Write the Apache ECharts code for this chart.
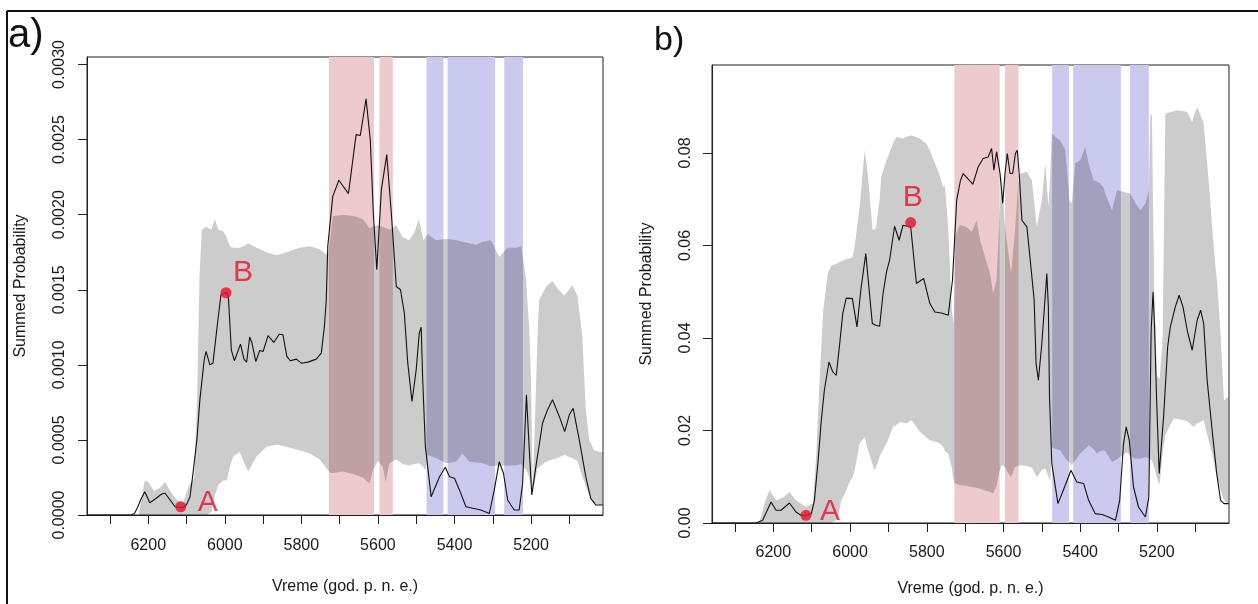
<!DOCTYPE html>
<html>
<head>
<meta charset="utf-8">
<script src="https://cdn.jsdelivr.net/npm/echarts@6/dist/echarts.min.js"></script>
<style>
html,body{margin:0;padding:0;background:#fff;}
#chart{width:1258px;height:604px;}
</style>
</head>
<body>
<div id="chart"></div>
<script>
// ---------------- DATA ----------------
const xTickValues = [6300, 6200, 6100, 6000, 5900, 5800, 5700, 5600, 5500, 5400, 5300, 5200, 5100];
const xLabelValues = [6200, 6000, 5800, 5600, 5400, 5200];
const yTicksA = [0, 0.0005, 0.001, 0.0015, 0.002, 0.0025, 0.003];
const yTicksB = [0, 0.02, 0.04, 0.06, 0.08];

const redBands = [[5728, 5610], [5596, 5561]];
const blueBands = [[5473, 5429], [5418, 5294], [5270, 5221]];

const markerNames = ['A', 'B'];
const markersA = [[6115, 0.000055], [5997, 0.00148]];
const markersB = [[6115, 0.00166], [5842, 0.06495]];

// panel a) summed probability line
const lineYearsA = [6360, 6245, 6236, 6228, 6220, 6209, 6196, 6180, 6165, 6156, 6140, 6130, 6115, 6109, 6100, 6091, 6083, 6073, 6065, 6054, 6049, 6039, 6031, 6018, 6010, 5997, 5991, 5983, 5975, 5959, 5950, 5943, 5935, 5929, 5919, 5909, 5900, 5887, 5872, 5858, 5848, 5838, 5829, 5813, 5800, 5783, 5761, 5748, 5740, 5735, 5731, 5718, 5702, 5677, 5657, 5646, 5631, 5620, 5612, 5603, 5591, 5577, 5565, 5552, 5541, 5531, 5522, 5511, 5500, 5492, 5487, 5483, 5476, 5461, 5439, 5424, 5413, 5400, 5387, 5370, 5352, 5331, 5309, 5296, 5283, 5272, 5261, 5244, 5231, 5222, 5212, 5205, 5198, 5186, 5170, 5157, 5144, 5126, 5112, 5100, 5090, 5074, 5057, 5044, 5031, 5013];
const lineA = [0, 0, 0.1e-4, 0.5e-4, 1.0e-4, 1.55e-4, 0.82e-4, 1.1e-4, 1.4e-4, 1.45e-4, 0.9e-4, 0.55e-4, 0.5e-4, 0.5e-4, 0.7e-4, 1.2e-4, 2.8e-4, 5.0e-4, 7.7e-4, 10.3e-4, 10.9e-4, 10.0e-4, 10.1e-4, 13.0e-4, 14.67e-4, 14.8e-4, 14.67e-4, 11.0e-4, 10.27e-4, 11.38e-4, 10.38e-4, 10.18e-4, 11.85e-4, 11.45e-4, 10.22e-4, 10.95e-4, 10.89e-4, 11.95e-4, 11.49e-4, 12.04e-4, 12.0e-4, 10.56e-4, 10.27e-4, 10.38e-4, 10.11e-4, 10.18e-4, 10.38e-4, 10.78e-4, 12.5e-4, 14.3e-4, 17.89e-4, 21.22e-4, 22.29e-4, 21.4e-4, 25.33e-4, 25.27e-4, 27.71e-4, 25.0e-4, 20.11e-4, 16.33e-4, 21.67e-4, 24.0e-4, 20.11e-4, 15.22e-4, 15.0e-4, 13.44e-4, 10.11e-4, 7.56e-4, 9.67e-4, 12.11e-4, 12.51e-4, 9.0e-4, 4.55e-4, 1.22e-4, 2.55e-4, 3.18e-4, 2.55e-4, 2.45e-4, 1.67e-4, 0.55e-4, 0.45e-4, 0.33e-4, 0.1e-4, 1.67e-4, 3.55e-4, 2.78e-4, 1.0e-4, 0.33e-4, 0.33e-4, 2.11e-4, 8.0e-4, 4.55e-4, 1.33e-4, 3.45e-4, 6.11e-4, 7.0e-4, 7.67e-4, 6.55e-4, 5.55e-4, 6.67e-4, 7.11e-4, 5.0e-4, 2.55e-4, 1.11e-4, 0.67e-4, 0.67e-4];

// panel a) simulation envelope
const envYearsA = [6360, 6225, 6215, 6209, 6200, 6185, 6170, 6156, 6140, 6125, 6109, 6095, 6080, 6072, 6066, 6060, 6048, 6035, 6026, 6017, 6004, 5995, 5987, 5978, 5961, 5950, 5939, 5917, 5891, 5865, 5839, 5804, 5778, 5752, 5731, 5724, 5718, 5692, 5661, 5639, 5622, 5613, 5600, 5587, 5580, 5570, 5552, 5535, 5518, 5505, 5493, 5481, 5476, 5470, 5448, 5422, 5396, 5379, 5361, 5344, 5326, 5305, 5283, 5261, 5239, 5226, 5213, 5205, 5200, 5196, 5190, 5183, 5179, 5161, 5144, 5131, 5113, 5092, 5079, 5066, 5057, 5048, 5035, 5018, 5013];
const upperA = [0, 0, 1.5e-4, 2.3e-4, 2.2e-4, 1.6e-4, 1.8e-4, 2.2e-4, 1.5e-4, 1.0e-4, 0.8e-4, 1.9e-4, 2.5e-4, 8e-4, 16e-4, 19e-4, 19.2e-4, 19.0e-4, 19.7e-4, 19.0e-4, 18.9e-4, 18.5e-4, 17.9e-4, 17.8e-4, 17.8e-4, 17.9e-4, 18.1e-4, 17.8e-4, 17.5e-4, 17.3e-4, 17.5e-4, 17.8e-4, 17.9e-4, 17.7e-4, 17.3e-4, 18.5e-4, 19.9e-4, 20.0e-4, 19.9e-4, 19.7e-4, 19.1e-4, 19.2e-4, 19.3e-4, 19.2e-4, 19.1e-4, 19.0e-4, 19.3e-4, 18.5e-4, 18.3e-4, 18.8e-4, 19.7e-4, 18.3e-4, 18.5e-4, 18.7e-4, 18.3e-4, 18.4e-4, 18.3e-4, 18.2e-4, 18.1e-4, 18.0e-4, 18.2e-4, 18.3e-4, 17.2e-4, 17.8e-4, 17.8e-4, 17.9e-4, 15.7e-4, 12.5e-4, 9.0e-4, 1.6e-4, 6.0e-4, 12.0e-4, 14.3e-4, 15.2e-4, 15.6e-4, 15.1e-4, 14.6e-4, 15.3e-4, 14.6e-4, 11.9e-4, 7.0e-4, 5.0e-4, 4.3e-4, 4.2e-4, 4.2e-4];
const lowerA = [0, 0, 0, 0, 0, 0, 0, 0, 0, 0, 0, 0, 0, 0, 0, 0, 0, 0.2e-4, 1.3e-4, 2.0e-4, 2.3e-4, 2.3e-4, 3.2e-4, 3.9e-4, 4.2e-4, 3.5e-4, 2.9e-4, 3.9e-4, 4.55e-4, 4.7e-4, 4.55e-4, 4.3e-4, 4.1e-4, 3.7e-4, 3.0e-4, 2.8e-4, 2.8e-4, 2.9e-4, 2.7e-4, 2.5e-4, 2.1e-4, 3.0e-4, 3.6e-4, 3.2e-4, 2.2e-4, 3.45e-4, 3.7e-4, 3.4e-4, 3.3e-4, 3.4e-4, 3.45e-4, 3.2e-4, 3.0e-4, 4.0e-4, 3.8e-4, 3.45e-4, 3.55e-4, 4.1e-4, 3.55e-4, 3.5e-4, 3.45e-4, 3.25e-4, 3.3e-4, 3.3e-4, 3.3e-4, 3.4e-4, 3.0e-4, 2.55e-4, 2.0e-4, 1.45e-4, 2.2e-4, 3.1e-4, 3.2e-4, 3.55e-4, 3.7e-4, 3.8e-4, 4.0e-4, 3.8e-4, 3.6e-4, 2.6e-4, 1.9e-4, 1.3e-4, 0.8e-4, 0.67e-4, 0.67e-4];

// panel b) summed probability line
const lineYearsB = [6360, 6245, 6228, 6206, 6193, 6180, 6158, 6141, 6128, 6115, 6101, 6093, 6084, 6075, 6067, 6055, 6045, 6036, 6027, 6019, 6010, 5994, 5982, 5971, 5959, 5951, 5942, 5933, 5923, 5914, 5905, 5897, 5884, 5872, 5862, 5851, 5842, 5827, 5808, 5792, 5779, 5762, 5744, 5733, 5722, 5712, 5705, 5680, 5666, 5653, 5640, 5631, 5625, 5618, 5609, 5602, 5596, 5590, 5583, 5576, 5569, 5564, 5559, 5552, 5539, 5531, 5520, 5515, 5509, 5500, 5487, 5483, 5480, 5474, 5458, 5444, 5424, 5409, 5391, 5378, 5361, 5343, 5326, 5308, 5297, 5287, 5280, 5272, 5261, 5248, 5230, 5221, 5215, 5210, 5206, 5201, 5194, 5182, 5172, 5165, 5152, 5142, 5132, 5121, 5108, 5095, 5086, 5078, 5069, 5056, 5044, 5034, 5025, 5013];
const lineB = [0, 0, 0.0006, 0.00454, 0.00275, 0.00275, 0.00432, 0.00238, 0.00166, 0.00166, 0.002, 0.0049, 0.01284, 0.0222, 0.0287, 0.0348, 0.03265, 0.0319, 0.0388, 0.0453, 0.0486, 0.0485, 0.04238, 0.05102, 0.05824, 0.05102, 0.04311, 0.04274, 0.04253, 0.0496, 0.05427, 0.0568, 0.06415, 0.06112, 0.06436, 0.06415, 0.0641, 0.05176, 0.05284, 0.04743, 0.04562, 0.0454, 0.0449, 0.05247, 0.06977, 0.07409, 0.07554, 0.07323, 0.07697, 0.07878, 0.07913, 0.08094, 0.07625, 0.08021, 0.07554, 0.06905, 0.07554, 0.07986, 0.07554, 0.07554, 0.07986, 0.08058, 0.07554, 0.06544, 0.064, 0.05751, 0.04815, 0.03446, 0.03085, 0.03879, 0.05392, 0.0467, 0.02724, 0.01284, 0.00419, 0.00707, 0.01139, 0.00886, 0.00852, 0.00491, 0.00203, 0.00182, 0.0013, 0.00058, 0.00491, 0.01717, 0.02076, 0.01788, 0.00778, 0.00346, 0.0013, 0.00562, 0.04166, 0.04994, 0.04238, 0.02724, 0.01068, 0.02365, 0.03805, 0.04238, 0.0467, 0.04923, 0.0467, 0.04166, 0.03734, 0.04382, 0.04599, 0.04311, 0.03085, 0.02004, 0.01068, 0.00491, 0.00419, 0.00419];

// panel b) simulation envelope
const envYearsB = [6360, 6237, 6220, 6210, 6193, 6175, 6158, 6141, 6115, 6097, 6088, 6080, 6070, 6058, 6049, 6036, 6027, 6023, 6010, 6001, 5993, 5988, 5975, 5962, 5954, 5941, 5936, 5932, 5923, 5919, 5905, 5888, 5879, 5871, 5862, 5853, 5840, 5818, 5801, 5792, 5775, 5766, 5757, 5753, 5744, 5735, 5730, 5725, 5714, 5696, 5683, 5670, 5661, 5648, 5635, 5627, 5618, 5611, 5605, 5596, 5590, 5580, 5570, 5562, 5557, 5539, 5526, 5513, 5500, 5491, 5483, 5478, 5474, 5465, 5452, 5439, 5428, 5422, 5413, 5400, 5387, 5378, 5365, 5357, 5348, 5339, 5335, 5317, 5304, 5287, 5278, 5269, 5256, 5243, 5230, 5221, 5217, 5213, 5207, 5200, 5193, 5185, 5178, 5156, 5147, 5130, 5121, 5108, 5104, 5095, 5078, 5065, 5056, 5047, 5043, 5034, 5025, 5016, 5013];
const upperB = [0, 0, 0.005, 0.0071, 0.0049, 0.0055, 0.0067, 0.0049, 0.0035, 0.0042, 0.015, 0.03, 0.046, 0.0539, 0.0557, 0.056, 0.0564, 0.0565, 0.057, 0.0572, 0.0575, 0.06, 0.0683, 0.0806, 0.0755, 0.0633, 0.0635, 0.064, 0.07, 0.0748, 0.0784, 0.082, 0.0835, 0.0833, 0.0831, 0.0835, 0.0838, 0.0831, 0.082, 0.0805, 0.077, 0.075, 0.0726, 0.073, 0.064, 0.046, 0.043, 0.062, 0.0644, 0.064, 0.0629, 0.0654, 0.0611, 0.0575, 0.0539, 0.0496, 0.0525, 0.065, 0.076, 0.064, 0.06, 0.054, 0.063, 0.073, 0.0755, 0.0759, 0.0741, 0.064, 0.0698, 0.0777, 0.0683, 0.075, 0.0842, 0.0835, 0.0827, 0.0806, 0.0698, 0.0691, 0.0777, 0.0784, 0.0813, 0.0777, 0.0741, 0.0738, 0.0734, 0.0725, 0.0712, 0.0676, 0.0719, 0.0716, 0.0714, 0.0712, 0.0691, 0.0676, 0.0691, 0.0719, 0.0886, 0.088, 0.05, 0.032, 0.031, 0.04, 0.0885, 0.089, 0.0892, 0.089, 0.0889, 0.0867, 0.088, 0.0899, 0.0863, 0.074, 0.064, 0.0553, 0.052, 0.0409, 0.0265, 0.0272, 0.0272];
const lowerB = [0, 0, 0, 0, 0, 0, 0, 0, 0, 0, 0, 0, 0, 0, 0, 0.0006, 0.003, 0.0049, 0.007, 0.0089, 0.01, 0.0114, 0.0172, 0.0186, 0.016, 0.0125, 0.0114, 0.012, 0.0143, 0.015, 0.0172, 0.0208, 0.0212, 0.0218, 0.0217, 0.0215, 0.0222, 0.0197, 0.0185, 0.0179, 0.0175, 0.0172, 0.0165, 0.0155, 0.015, 0.012, 0.009, 0.0085, 0.0082, 0.008, 0.0078, 0.0076, 0.0074, 0.007, 0.0067, 0.0064, 0.008, 0.011, 0.0125, 0.0121, 0.011, 0.0099, 0.0121, 0.0123, 0.0125, 0.0123, 0.012, 0.0099, 0.0115, 0.0118, 0.01, 0.0092, 0.0164, 0.016, 0.0157, 0.014, 0.013, 0.0125, 0.0135, 0.015, 0.016, 0.0168, 0.016, 0.015, 0.0155, 0.0157, 0.0155, 0.0132, 0.0138, 0.0148, 0.0153, 0.0145, 0.0139, 0.0139, 0.0142, 0.014, 0.0136, 0.0136, 0.012, 0.0099, 0.0082, 0.015, 0.019, 0.0226, 0.0225, 0.0222, 0.022, 0.021, 0.0208, 0.0215, 0.0222, 0.0179, 0.015, 0.011, 0.0099, 0.007, 0.0049, 0.0042, 0.0042];

// ---------------- CHART ----------------
const FONT = "'Liberation Sans', Arial, sans-serif";
const TXT = '#1a1a1a';
const RED = '#e8102a';
const chart = echarts.init(document.getElementById('chart'), null, {renderer: 'canvas'});

function bandRender(color) {
  return function (params, api) {
    const p1 = api.coord([api.value(0), 0]);
    const p2 = api.coord([api.value(1), 0]);
    const cs = params.coordSys;
    return {
      type: 'rect',
      shape: {x: Math.min(p1[0], p2[0]), y: cs.y, width: Math.abs(p2[0] - p1[0]), height: cs.height},
      style: {fill: color}
    };
  };
}
function envelopeRender(years, lower, upper) {
  return function (params, api) {
    if (params.dataIndex !== 0) return null;
    const pts = [];
    for (let i = 0; i < years.length; i++) pts.push(api.coord([years[i], upper[i]]));
    for (let i = years.length - 1; i >= 0; i--) pts.push(api.coord([years[i], lower[i]]));
    return {type: 'polygon', shape: {points: pts}, style: {fill: 'rgba(0,0,0,0.2)'}};
  };
}
function xAxisDef(gridIndex, margin, nameGap) {
  return {
    gridIndex, type: 'value', inverse: true, min: 5012, max: 6360,
    axisLine: {show: true, lineStyle: {color: '#222', width: 1}},
    axisTick: {show: true, length: 9, customValues: xTickValues, lineStyle: {color: '#222'}},
    axisLabel: {customValues: xLabelValues, margin, color: TXT, fontSize: 16, fontFamily: FONT,
      formatter: v => String(Math.round(v))},
    splitLine: {show: false},
    name: 'Vreme (god. p. n. e.)', nameLocation: 'middle', nameGap,
    nameTextStyle: {color: TXT, fontSize: 16, fontFamily: FONT}
  };
}
function yAxisDef(gridIndex, max, ticks, digits, margin, nameGap) {
  return {
    gridIndex, type: 'value', min: 0, max,
    axisLine: {show: true, lineStyle: {color: '#222', width: 1}},
    axisTick: {show: true, length: 9, customValues: ticks, lineStyle: {color: '#222'}},
    axisLabel: {customValues: ticks, rotate: 90, margin, color: TXT, fontSize: 16, fontFamily: FONT,
      formatter: v => Number(v).toFixed(digits)},
    splitLine: {show: false},
    name: 'Summed Probability', nameLocation: 'middle', nameGap, nameRotate: 90,
    nameTextStyle: {color: TXT, fontSize: 16, fontFamily: FONT}
  };
}
function panelSeries(idx, envYears, lower, upper, lineYears, line, markers) {
  const envData = envYears.map((y, i) => [y, lower[i], upper[i]]);
  return [
    {type: 'custom', xAxisIndex: idx, yAxisIndex: idx, z: 1, silent: true, clip: true,
      renderItem: bandRender('#edcacc'), data: redBands, encode: {x: [0, 1]}},
    {type: 'custom', xAxisIndex: idx, yAxisIndex: idx, z: 1, silent: true, clip: true,
      renderItem: bandRender('#cacaee'), data: blueBands, encode: {x: [0, 1]}},
    {type: 'custom', xAxisIndex: idx, yAxisIndex: idx, z: 2, silent: true, clip: true,
      renderItem: envelopeRender(envYears, lower, upper), data: envData, encode: {x: 0, y: [1, 2]}},
    {type: 'line', xAxisIndex: idx, yAxisIndex: idx, z: 3, silent: true, showSymbol: false,
      lineStyle: {color: '#111', width: 1.1}, data: lineYears.map((y, i) => [y, line[i]])},
    {type: 'scatter', xAxisIndex: idx, yAxisIndex: idx, z: 4, silent: true, symbolSize: 11,
      itemStyle: {color: RED},
      data: markers.map((m, i) => ({value: m, name: markerNames[i]})),
      label: {show: true, position: 'inside', formatter: p => p.name, color: RED, fontSize: 30,
        fontFamily: FONT}
    }
  ];
}

const seriesA = panelSeries(0, envYearsA, lowerA, upperA, lineYearsA, lineA, markersA);
const seriesB = panelSeries(1, envYearsB, lowerB, upperB, lineYearsB, lineB, markersB);
// label offsets for A / B
seriesA[4].data[0].label = {offset: [27, -4]};
seriesA[4].data[1].label = {offset: [17, -20]};
seriesB[4].data[0].label = {offset: [24, -4]};
seriesB[4].data[1].label = {offset: [2, -25]};

chart.setOption({
  animation: false,
  backgroundColor: '#ffffff',
  textStyle: {fontFamily: FONT},
  grid: [
    {left: 87, top: 57, width: 516, height: 458, show: true, borderColor: '#222', borderWidth: 1, backgroundColor: 'transparent', containLabel: false},
    {left: 712, top: 65, width: 517, height: 458, show: true, borderColor: '#222', borderWidth: 1, backgroundColor: 'transparent', containLabel: false}
  ],
  xAxis: [xAxisDef(0, 23, 64), xAxisDef(1, 22, 58)],
  yAxis: [yAxisDef(0, 0.00305, yTicksA, 4, 19, 58), yAxisDef(1, 0.099, yTicksB, 2, 18, 57)],
  series: seriesA.concat(seriesB),
  graphic: [
    {type: 'line', shape: {x1: 7, y1: 11, x2: 1258, y2: 11}, style: {stroke: '#111', lineWidth: 2}},
    {type: 'line', shape: {x1: 7, y1: 11, x2: 7, y2: 604}, style: {stroke: '#111', lineWidth: 2}},
    {type: 'text', left: 8, top: 16, style: {text: 'a)', font: '40px ' + FONT, fill: '#111'}},
    {type: 'text', left: 654, top: 24, style: {text: 'b)', font: '34px ' + FONT, fill: '#111'}}
  ]
});
</script>
</body>
</html>
